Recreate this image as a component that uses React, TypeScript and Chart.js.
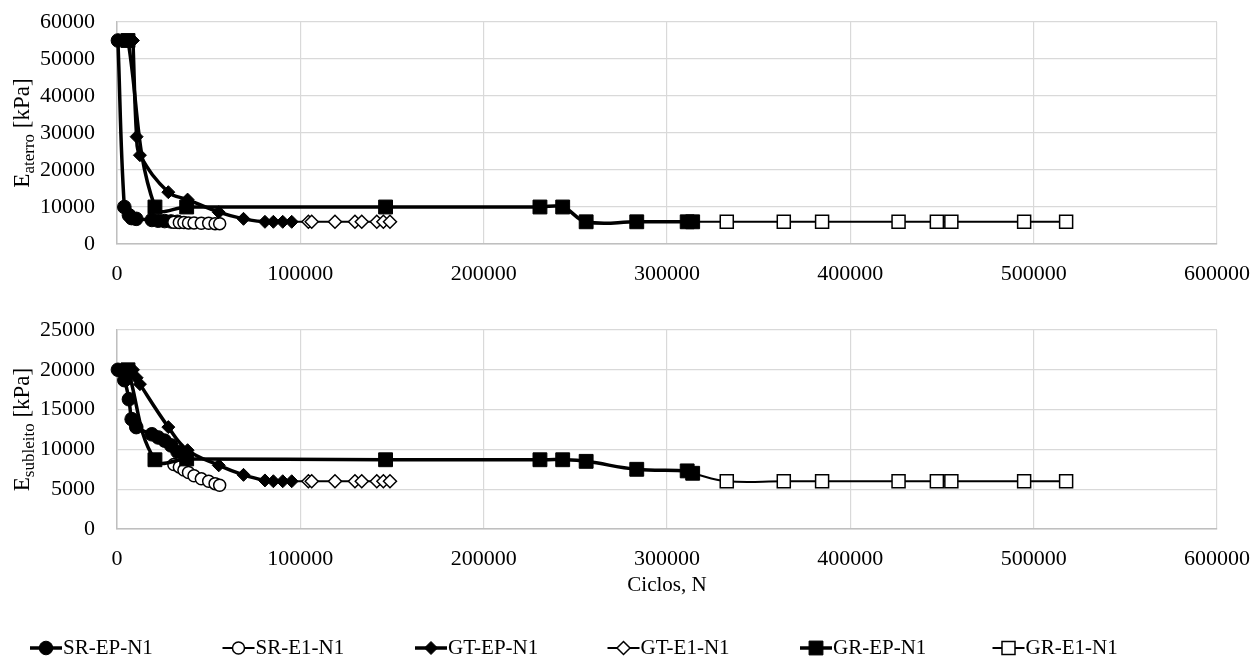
import React, { useEffect, useRef } from "react";
import { Chart, registerables } from "chart.js";

Chart.register(...registerables);

// ---------------- DATA ----------------
const SERIES_NAMES = ["SR-EP-N1", "SR-E1-N1", "GT-EP-N1", "GT-E1-N1", "GR-EP-N1", "GR-E1-N1"];

const SR_EP_CYCLES = [500, 4000, 6500, 8000, 10500, 19000, 22500, 26000, 29500, 33000];
const SR_EP_ATERRO = [55000, 10000, 7800, 7000, 6800, 6500, 6300, 6200, 6100, 6000];
const SR_EP_SUBLEITO = [20000, 18700, 16300, 13800, 12800, 11900, 11500, 11100, 10500, 9700];

const SR_E1_CYCLES = [31000, 34000, 36500, 39000, 42000, 46000, 50000, 53500, 56000];
const SR_E1_ATERRO = [5900, 5800, 5800, 5700, 5700, 5600, 5600, 5500, 5500];
const SR_E1_SUBLEITO = [8100, 7800, 7400, 7100, 6700, 6300, 6000, 5700, 5500];

const GT_EP_CYCLES = [8700, 10700, 12500, 28000, 38500, 55500, 69000, 80700, 85300, 90400, 95300];
const GT_EP_ATERRO = [55000, 29000, 24000, 14000, 12000, 8600, 6800, 6000, 6000, 6000, 6000];
const GT_EP_SUBLEITO = [20000, 19000, 18200, 12800, 9900, 8000, 6800, 6100, 6000, 6000, 6000];

const GT_E1_CYCLES = [95300, 104400, 106200, 118900, 129800, 133500, 141700, 145300, 148900];
const GT_E1_ATERRO = [6000, 6000, 6000, 6000, 6000, 6000, 6000, 6000, 6000];
const GT_E1_SUBLEITO = [6000, 6000, 6000, 6000, 6000, 6000, 6000, 6000, 6000];

const GR_EP_CYCLES = [6000, 20700, 38000, 146500, 230700, 243100, 255900, 283500, 311000, 314000];
const GR_EP_ATERRO = [55000, 10000, 10000, 10000, 10000, 10000, 6000, 6000, 6000, 6000];
const GR_EP_SUBLEITO = [20000, 8700, 8800, 8700, 8700, 8700, 8500, 7500, 7300, 7000];

const GR_E1_CYCLES = [314000, 332600, 363700, 384600, 426300, 447200, 455100, 494800, 517700];
const GR_E1_ATERRO = [6000, 6000, 6000, 6000, 6000, 6000, 6000, 6000, 6000];
const GR_E1_SUBLEITO = [7000, 6000, 6000, 6000, 6000, 6000, 6000, 6000, 6000];

const X_TICKS = [0, 100000, 200000, 300000, 400000, 500000, 600000];
const X_TICK_LABELS = ["0", "100000", "200000", "300000", "400000", "500000", "600000"];
const Y_ATERRO_TICKS = [0, 10000, 20000, 30000, 40000, 50000, 60000];
const Y_SUBLEITO_TICKS = [0, 5000, 10000, 15000, 20000, 25000];

const X_TITLE = "Ciclos, N";
const Y_ATERRO_TITLE = ["E", "aterro", " [kPa]"];
const Y_SUBLEITO_TITLE = ["E", "subleito", " [kPa]"];

// ---------------- STYLE / LAYOUT ----------------
const W = 1253;
const TOP_H = 300;
const BOT_H = 365;
const PLOT_LEFT = 117;
const PLOT_RIGHT = 1217;
const FONT_FAMILY = "'Liberation Serif', 'Times New Roman', serif";
const TICK_SIZE = 22;
const TITLE_SIZE = 23;
const XTITLE_SIZE = 21;
const LEGEND_SIZE = 21;

type MarkerStyle = {
  style: "circle" | "rectRot" | "rect";
  radius: number;
  filled: boolean;
  lineWidth: number;
  markerBorder: number;
  hideFirst: boolean;
};

const MARKERS: MarkerStyle[] = [
  { style: "circle", radius: 6.8, filled: true, lineWidth: 3.5, markerBorder: 1, hideFirst: false },
  { style: "circle", radius: 6, filled: false, lineWidth: 2, markerBorder: 1.5, hideFirst: false },
  { style: "rectRot", radius: 6.5, filled: true, lineWidth: 3.5, markerBorder: 1, hideFirst: false },
  { style: "rectRot", radius: 6.5, filled: false, lineWidth: 2, markerBorder: 1.5, hideFirst: true },
  { style: "rect", radius: 9.8, filled: true, lineWidth: 3.5, markerBorder: 1, hideFirst: false },
  { style: "rect", radius: 9.2, filled: false, lineWidth: 2, markerBorder: 1.5, hideFirst: true },
];

function buildDatasets(cycles: number[][], values: number[][]) {
  return cycles.map((xs, s) => {
    const m = MARKERS[s];
    const radii = xs.map((_, i) => (m.hideFirst && i === 0 ? 0 : m.radius));
    return {
      label: SERIES_NAMES[s],
      data: xs.map((x, i) => ({ x, y: values[s][i] })),
      borderColor: "#000",
      backgroundColor: "#000",
      borderWidth: m.lineWidth,
      pointStyle: m.style,
      pointRadius: radii,
      pointHoverRadius: radii,
      pointBackgroundColor: m.filled ? "#000" : "#fff",
      pointBorderColor: "#000",
      pointBorderWidth: m.markerBorder,
      tension: 0.4,
      fill: false,
      clip: false,
      order: 10 - s,
    };
  });
}

function drawMarker(ctx: CanvasRenderingContext2D, m: MarkerStyle, x: number, y: number) {
  ctx.beginPath();
  if (m.style === "circle") {
    ctx.arc(x, y, m.radius, 0, Math.PI * 2);
  } else if (m.style === "rect") {
    const s = m.radius * Math.SQRT1_2;
    ctx.rect(x - s, y - s, 2 * s, 2 * s);
  } else {
    ctx.moveTo(x, y - m.radius);
    ctx.lineTo(x + m.radius, y);
    ctx.lineTo(x, y + m.radius);
    ctx.lineTo(x - m.radius, y);
    ctx.closePath();
  }
  ctx.fillStyle = m.filled ? "#000" : "#fff";
  ctx.fill();
  ctx.lineWidth = m.markerBorder;
  ctx.strokeStyle = "#000";
  ctx.stroke();
}

function drawYTitle(ctx: CanvasRenderingContext2D, cx: number, cy: number, parts: string[]) {
  const [main, sub, rest] = parts;
  const big = `${TITLE_SIZE}px ${FONT_FAMILY}`;
  const small = `${Math.round(TITLE_SIZE * 0.72)}px ${FONT_FAMILY}`;
  ctx.save();
  ctx.translate(cx, cy);
  ctx.rotate(-Math.PI / 2);
  ctx.textAlign = "left";
  ctx.textBaseline = "alphabetic";
  ctx.fillStyle = "#000";
  ctx.font = big;
  const w1 = ctx.measureText(main).width;
  const w3 = ctx.measureText(rest).width;
  ctx.font = small;
  const w2 = ctx.measureText(sub).width;
  let x = -(w1 + w2 + w3) / 2;
  const base = 7;
  ctx.font = big;
  ctx.fillText(main, x, base);
  x += w1;
  ctx.font = small;
  ctx.fillText(sub, x, base + 5);
  x += w2;
  ctx.font = big;
  ctx.fillText(rest, x, base);
  ctx.restore();
}

function zeroPadding(scale: any) {
  scale.paddingLeft = 0;
  scale.paddingRight = 0;
  scale.paddingTop = 0;
  scale.paddingBottom = 0;
}

function makeOptions(
  yTicks: number[],
  padTop: number,
  xAxisHeight: number,
  titleParts: string[],
  withLegend: boolean
) {
  const plugin = {
    id: "customText",
    afterDraw(chart: any) {
      const ctx: CanvasRenderingContext2D = chart.ctx;
      const area = chart.chartArea;
      drawYTitle(ctx, 22, (area.top + area.bottom) / 2, titleParts);
      if (withLegend) {
        ctx.save();
        ctx.fillStyle = "#000";
        ctx.font = `${XTITLE_SIZE}px ${FONT_FAMILY}`;
        ctx.textAlign = "center";
        ctx.textBaseline = "middle";
        ctx.fillText(X_TITLE, (area.left + area.right) / 2, area.bottom + 56);
        ctx.font = `${LEGEND_SIZE}px ${FONT_FAMILY}`;
        ctx.textAlign = "left";
        const ly = area.bottom + 119;
        SERIES_NAMES.forEach((name, i) => {
          const m = MARKERS[i];
          const x0 = 30 + 192.5 * i;
          ctx.beginPath();
          ctx.moveTo(x0, ly);
          ctx.lineTo(x0 + 32, ly);
          ctx.lineWidth = m.lineWidth;
          ctx.strokeStyle = "#000";
          ctx.stroke();
          drawMarker(ctx, m, x0 + 16, ly);
          ctx.fillStyle = "#000";
          ctx.fillText(name, x0 + 33, ly);
        });
        ctx.restore();
      }
    },
  };

  const options: any = {
    responsive: false,
    animation: false,
    events: [],
    layout: {
      autoPadding: false,
      padding: { left: 0, right: W - PLOT_RIGHT, top: padTop, bottom: 0 },
    },
    plugins: {
      legend: { display: false },
      tooltip: { enabled: false },
      title: { display: false },
    },
    scales: {
      x: {
        type: "linear",
        min: X_TICKS[0],
        max: X_TICKS[X_TICKS.length - 1],
        afterBuildTicks: (scale: any) => {
          scale.ticks = X_TICKS.map((v) => ({ value: v }));
        },
        afterFit: (scale: any) => {
          scale.height = xAxisHeight;
          zeroPadding(scale);
        },
        ticks: {
          autoSkip: false,
          maxRotation: 0,
          padding: 17,
          color: "#000",
          font: { family: FONT_FAMILY, size: TICK_SIZE },
          callback: (v: number) => {
            const idx = X_TICKS.indexOf(v);
            return idx >= 0 ? X_TICK_LABELS[idx] : "";
          },
        },
        grid: { color: "#d9d9d9", lineWidth: 1.2, drawTicks: false },
        border: { display: true, color: "#bfbfbf", width: 1.5 },
      },
      y: {
        type: "linear",
        min: yTicks[0],
        max: yTicks[yTicks.length - 1],
        afterBuildTicks: (scale: any) => {
          scale.ticks = yTicks.map((v) => ({ value: v }));
        },
        afterFit: (scale: any) => {
          scale.width = PLOT_LEFT;
          zeroPadding(scale);
        },
        ticks: {
          autoSkip: false,
          padding: 22,
          color: "#000",
          font: { family: FONT_FAMILY, size: TICK_SIZE },
          callback: (v: number) => String(v),
        },
        grid: { color: "#d9d9d9", lineWidth: 1.2, drawTicks: false },
        border: { display: true, color: "#bfbfbf", width: 1.5 },
      },
    },
  };
  return { options, plugin };
}

export default function App() {
  const topRef = useRef<HTMLCanvasElement>(null);
  const botRef = useRef<HTMLCanvasElement>(null);

  useEffect(() => {
    const cyc = [SR_EP_CYCLES, SR_E1_CYCLES, GT_EP_CYCLES, GT_E1_CYCLES, GR_EP_CYCLES, GR_E1_CYCLES];
    const aterro = [SR_EP_ATERRO, SR_E1_ATERRO, GT_EP_ATERRO, GT_E1_ATERRO, GR_EP_ATERRO, GR_E1_ATERRO];
    const subleito = [
      SR_EP_SUBLEITO,
      SR_E1_SUBLEITO,
      GT_EP_SUBLEITO,
      GT_E1_SUBLEITO,
      GR_EP_SUBLEITO,
      GR_E1_SUBLEITO,
    ];

    const topCfg = makeOptions(Y_ATERRO_TICKS, 22, TOP_H - 244, Y_ATERRO_TITLE, false);
    const botCfg = makeOptions(Y_SUBLEITO_TICKS, 30, BOT_H - 229, Y_SUBLEITO_TITLE, true);

    const c1 = new Chart(topRef.current as HTMLCanvasElement, {
      type: "line",
      data: { datasets: buildDatasets(cyc, aterro) as any },
      options: topCfg.options,
      plugins: [topCfg.plugin],
    });
    const c2 = new Chart(botRef.current as HTMLCanvasElement, {
      type: "line",
      data: { datasets: buildDatasets(cyc, subleito) as any },
      options: botCfg.options,
      plugins: [botCfg.plugin],
    });
    return () => {
      c1.destroy();
      c2.destroy();
    };
  }, []);

  return (
    <div style={{ position: "absolute", left: 0, top: 0, width: W, height: TOP_H + BOT_H, background: "#fff" }}>
      <canvas
        ref={topRef}
        width={W}
        height={TOP_H}
        style={{ position: "absolute", left: 0, top: 0, width: W, height: TOP_H }}
      />
      <canvas
        ref={botRef}
        width={W}
        height={BOT_H}
        style={{ position: "absolute", left: 0, top: TOP_H, width: W, height: BOT_H }}
      />
    </div>
  );
}
